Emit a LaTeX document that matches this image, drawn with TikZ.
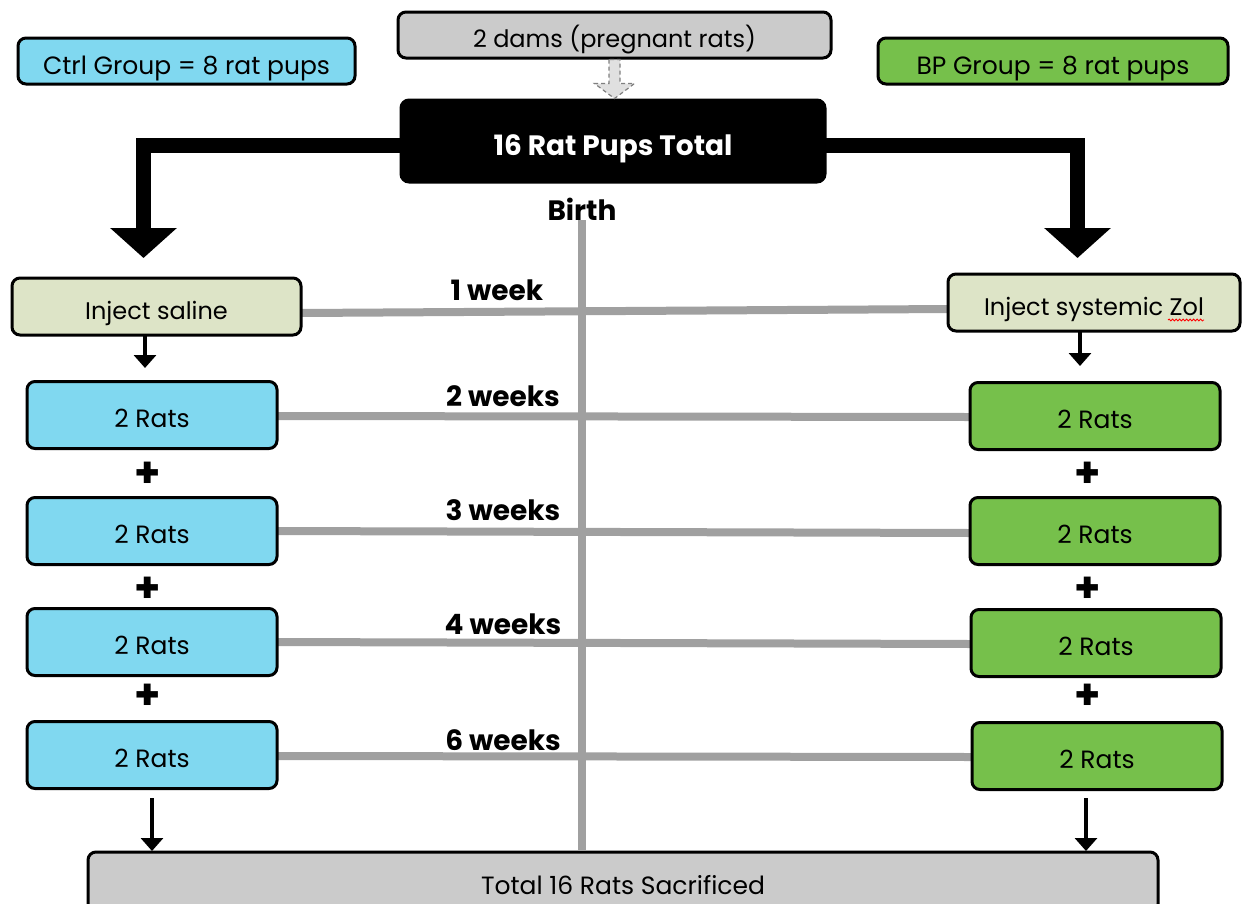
\documentclass[tikz,border=0pt]{standalone}
\usepackage{fontspec}
\setmainfont{Poppins}
\usetikzlibrary{arrows.meta,decorations.pathmorphing}
\definecolor{cyanbox}{HTML}{80D8F0}
\definecolor{greenbox}{HTML}{76C04B}
\definecolor{palebox}{HTML}{DDE4C7}
\definecolor{graybox}{HTML}{CBCBCB}
\definecolor{grayline}{HTML}{A0A0A0}
\begin{document}
\begin{tikzpicture}[x=1pt,y=-1pt,
  box/.style={draw=black, line width=3pt, rounded corners=8pt, inner sep=0pt,
    font=\fontsize{25}{29}\selectfont, text height=25pt, text depth=0pt},
  smalltext/.style={font=\fontsize{24}{28}\selectfont},
  ratbox/.style={box, minimum width=250pt, minimum height=67pt},
  ctrl/.style={fill=cyanbox},
  bp/.style={fill=greenbox},
  timeline/.style={draw=grayline, line width=8pt},
  weeklabel/.style={font=\bfseries\fontsize{28}{32}\selectfont, inner sep=0pt},
  bigarrow/.style={draw=black, line width=15pt, -{Triangle[width=65pt,length=30pt]}},
  smallarrow/.style={draw=black, line width=4pt, -{Triangle[width=22pt,length=13pt]}},
  plus/.style={font=\bfseries\fontsize{42}{42}\selectfont, inner sep=0pt}
]
\useasboundingbox (0,0) rectangle (1243,903);

% nodes
\node[box, smalltext, fill=graybox, minimum width=433pt, minimum height=46pt] (dams) at (614.5,35) {2 dams (pregnant rats)};
\node[box, ctrl, minimum width=337pt, minimum height=46pt, text height=27pt] (ctrlg) at (186.5,61) {Ctrl Group = 8 rat pups};
\node[box, bp, minimum width=350pt, minimum height=46pt, text height=27pt] (bpg) at (1053,61) {BP Group = 8 rat pups};
\node[box, fill=black, text=white, minimum width=424pt, minimum height=82pt, text height=28pt, font=\bfseries\fontsize{28}{32}\selectfont] (total) at (613,141) {16 Rat Pups Total};
\node[weeklabel] (birth) at (582,209) {Birth};

% timeline lines (behind boxes)
\coordinate (sE) at (301,313);
\coordinate (zW) at (948,309);
\coordinate (tbot) at (582,850);
\path[timeline] (birth.south) -- (tbot);
\path[timeline] (sE) -- (zW);
\coordinate (l1e) at (277,416); \coordinate (r1w) at (970,417);
\coordinate (l2e) at (277,531); \coordinate (r2w) at (970,533);
\coordinate (l3e) at (277,642); \coordinate (r3w) at (971,644);
\coordinate (l4e) at (277,756); \coordinate (r4w) at (972,757);
\path[timeline] (l1e) -- (r1w);
\path[timeline] (l2e) -- (r2w);
\path[timeline] (l3e) -- (r3w);
\path[timeline] (l4e) -- (r4w);

% boxes on top of lines
\node[box, smalltext, fill=palebox, minimum width=289pt, minimum height=57pt] (saline) at (156.5,306.5) {Inject saline};
\node[box, smalltext, fill=palebox, minimum width=292pt, minimum height=57pt] (zol) at (1094,302.5) {Inject systemic Zol};

\node[ratbox, ctrl] (L1) at (152,415) {2 Rats};
\node[ratbox, ctrl] (L2) at (152,531) {2 Rats};
\node[ratbox, ctrl] (L3) at (152,642) {2 Rats};
\node[ratbox, ctrl] (L4) at (152,755) {2 Rats};
\node[ratbox, bp] (R1) at (1095,416) {2 Rats};
\node[ratbox, bp] (R2) at (1095,531) {2 Rats};
\node[ratbox, bp] (R3) at (1096,643) {2 Rats};
\node[ratbox, bp] (R4) at (1097,756) {2 Rats};

\node[box, fill=graybox, minimum width=1070pt, minimum height=60pt] (bottom) at (623,882) {Total 16 Rats Sacrificed};

% week labels
\node[weeklabel] (w1) at (497,290) {1 week};
\node[weeklabel] (w2) at (503,396) {2 weeks};
\node[weeklabel] (w3) at (503,510) {3 weeks};
\node[weeklabel] (w4) at (503,624) {4 weeks};
\node[weeklabel] (w6) at (503,740) {6 weeks};

% dashed hollow arrow
\coordinate (da) at (dams.south);
\draw[draw=gray, fill=black!12, line width=1.2pt, dash pattern=on 4pt off 3pt]
  ([xshift=-5.5pt]da) -- ([xshift=-5.5pt,yshift=-24pt]da) -- ([xshift=-20pt,yshift=-24pt]da)
  -- ([yshift=-39pt]da) -- ([xshift=20pt,yshift=-24pt]da) -- ([xshift=5.5pt,yshift=-24pt]da)
  -- ([xshift=5.5pt]da) -- cycle;

% big elbow arrows
\coordinate (lt) at (143.5,258);
\coordinate (rt) at (1077.5,258);
\coordinate (tw) at (401,145);
\coordinate (te) at (825,145);
\draw[bigarrow] (tw) -| (lt);
\draw[bigarrow] (te) -| (rt);

% small arrows
\coordinate (sa1) at (145,336); \coordinate (sa2) at (145,368);
\coordinate (za1) at (1080,332); \coordinate (za2) at (1080,366);
\coordinate (ba1) at (152,798); \coordinate (ba2) at (152,851);
\coordinate (bb1) at (1086,798); \coordinate (bb2) at (1086,851);
\draw[smallarrow] (sa1) -- (sa2);
\draw[smallarrow] (za1) -- (za2);
\draw[smallarrow] (ba1) -- (ba2);
\draw[smallarrow] (bb1) -- (bb2);

% plus signs
\node[plus] (pl1) at (148,475) {+};
\node[plus] (pl2) at (148,590) {+};
\node[plus] (pl3) at (148,697) {+};
\node[plus] (pr1) at (1088,475) {+};
\node[plus] (pr2) at (1088,590) {+};
\node[plus] (pr3) at (1088,697) {+};

% spell-check squiggle under Zol
\draw[red, line width=0.8pt, decorate, decoration={snake, amplitude=1pt, segment length=3.5pt}] (1168,320) -- (1204,320);
\end{tikzpicture}
\end{document}
